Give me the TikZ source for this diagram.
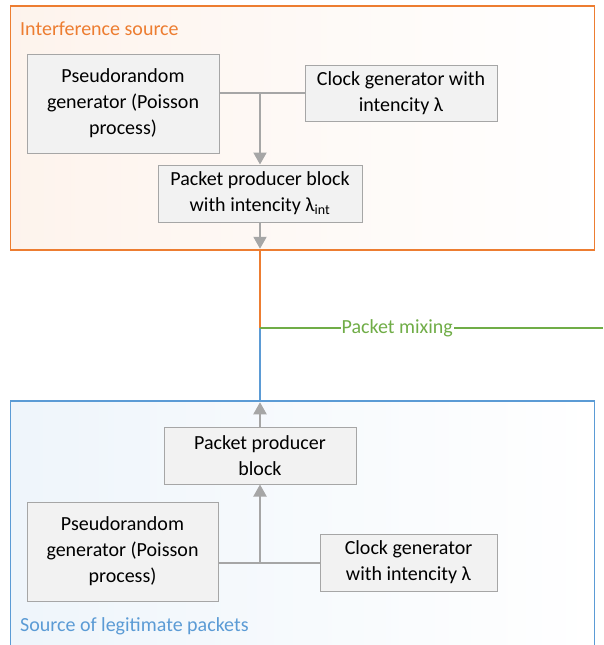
\documentclass[tikz,border=0pt]{standalone}
\usepackage{fontspec}
\setmainfont{Carlito}
\usetikzlibrary{arrows.meta}
\definecolor{orng}{HTML}{ED7D31}
\definecolor{blu}{HTML}{5B9BD5}
\definecolor{grn}{HTML}{70AD47}
\definecolor{boxfill}{HTML}{F2F2F2}
\definecolor{boxline}{HTML}{A6A6A6}
\definecolor{arrgrey}{HTML}{A6A6A6}
\begin{document}
\begin{tikzpicture}[x=1pt,y=-1pt,
  blk/.style={draw=boxline, fill=boxfill, line width=1pt, align=center,
    font=\fontsize{20}{26}\selectfont, inner sep=0pt},
  conn/.style={draw=arrgrey, line width=2pt},
  arr/.style={conn, -{Triangle[length=12pt,width=13pt]}},
  outer/.style={line width=1.5pt, inner sep=0pt},
  ttl/.style={font=\fontsize{20}{24}\selectfont, anchor=west, inner sep=0pt}]
\useasboundingbox (0,0) rectangle (603,645);
% outer frames
\node[outer, draw=orng, left color=orng!9, right color=white,
  minimum width=584pt, minimum height=244pt] (ibox) at (302.5,128) {};
\node[outer, draw=blu, left color=blu!10, right color=white,
  minimum width=584pt, minimum height=246pt] (lbox) at (302.5,524) {};
\node[ttl, text=orng] (t1) at (20,29) {Interference source};
\node[ttl, text=blu] (t2) at (20,626) {Source of legitimate packets};
% top blocks
\node[blk, minimum width=192pt, minimum height=99pt] (pr1) at (123,103.5)
  {Pseudorandom\\generator (Poisson\\process)};
\node[blk, minimum width=192pt, minimum height=56pt] (cl1) at (401,93)
  {Clock generator with\\intencity λ};
\node[blk, minimum width=204pt, minimum height=57pt] (pp1) at (260,193.5)
  {Packet producer block\\with intencity λ\textsubscript{int}};
% bottom blocks
\node[blk, minimum width=192pt, minimum height=57pt] (pp2) at (260,455.5)
  {Packet producer\\block};
\node[blk, minimum width=191pt, minimum height=99pt] (pr2) at (122.5,551.5)
  {Pseudorandom\\generator (Poisson\\process)};
\node[blk, minimum width=177pt, minimum height=57pt] (cl2) at (408.5,562.5)
  {Clock generator\\with intencity λ};
% top connectors
\coordinate (j1) at (pp1.north |- cl1.west);
\draw[conn] (cl1.west) -- (cl1.west -| pr1.east);
\draw[arr] (j1) -- (pp1.north);
\draw[arr, shorten >=2pt] (pp1.south) -- (pp1.south |- ibox.south);
% bottom connectors
\coordinate (j2) at (pp2.south |- cl2.west);
\draw[conn] (cl2.west) -- (cl2.west -| pr2.east);
\draw[arr] (j2) -- (pp2.south);
\draw[arr, shorten >=2pt] (pp2.north) -- (pp2.north |- lbox.north);
% mixing
\coordinate (m) at (260,328);
\coordinate (mr) at (603,328);
\draw[orng, line width=1.5pt] (pp1.south |- ibox.south) -- (m);
\draw[blu, line width=1.5pt] (m) -- (pp2.north |- lbox.north);
\draw[grn, line width=1.5pt] (m) -- node[pos=0.4, fill=white, inner sep=1pt,
  text=grn, font=\fontsize{20}{24}\selectfont] (mix) {Packet mixing} (mr);
\end{tikzpicture}
\end{document}
